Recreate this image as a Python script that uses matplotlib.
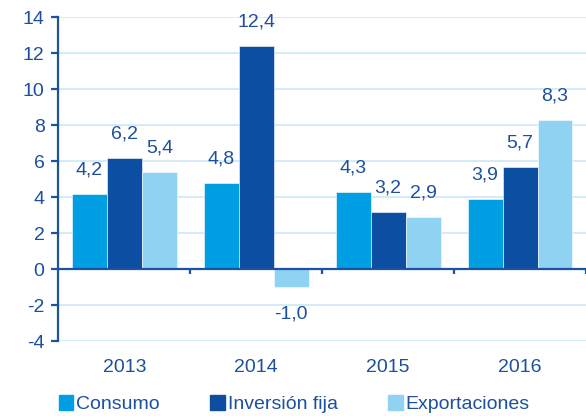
import numpy as np
import matplotlib
matplotlib.use("Agg")
import matplotlib.pyplot as plt
from matplotlib.patches import Patch

plt.rcParams['font.family'] = ['Liberation Sans', 'DejaVu Sans']
plt.rcParams['axes.unicode_minus'] = False

# data
years = ['2013', '2014', '2015', '2016']
series = ['Consumo', 'Inversión fija', 'Exportaciones']
consumo = [4.2, 4.8, 4.3, 3.9]
inversion = [6.2, 12.4, 3.2, 5.7]
exportaciones = [5.4, -1.0, 2.9, 8.3]

colors = ['#009ee2', '#0b4ea2', '#8fd2f2']
txt = '#1c4f9f'
grid_c = '#cde9f6'

fig = plt.figure(figsize=(5.86, 4.16), dpi=100)
ax = fig.add_axes([0.0998, 0.1796, 0.9002, 0.7788])

x = np.arange(len(years))
w = 0.265
for i, vals in enumerate([consumo, inversion, exportaciones]):
    pos = x + (i - 1) * w
    ax.bar(pos, vals, w, color=colors[i], edgecolor='white', linewidth=0.4, zorder=3)
    for px, v in zip(pos, vals):
        lab = ('%.1f' % v).replace('.', ',')
        off = 11 if v >= 0 else -13
        ax.annotate(lab, (px, v), xytext=(0, off), textcoords='offset points',
                    ha='center', va='bottom' if v >= 0 else 'top',
                    fontsize=14, color=txt)

ax.set_xlim(-0.5, 3.5)
ax.set_ylim(-4, 14)
ax.set_yticks(range(-4, 15, 2))
ax.yaxis.grid(True, color=grid_c, linewidth=1.2, zorder=0)
ax.set_axisbelow(True)

for s in ['top', 'right', 'bottom']:
    ax.spines[s].set_visible(False)
ax.spines['left'].set_color('#1a53a3')
ax.spines['left'].set_linewidth(1.6)
ax.spines['left'].set_zorder(5)

# x axis line at zero with boundary ticks
ax.axhline(0, color='#1a53a3', linewidth=1.6, zorder=4)
ax.vlines(np.arange(0.5, 4, 1), -0.28, 0, color='#1a53a3', linewidth=1.6,
          zorder=4, clip_on=False)

ax.set_xticks(x)
ax.set_xticklabels(years)
ax.tick_params(axis='x', length=0, pad=13, labelsize=14, labelcolor=txt)
ax.tick_params(axis='y', direction='out', length=5, width=1.6, color='#1a53a3',
               labelsize=14, labelcolor=txt, pad=5)

handles = [Patch(color=c) for c in colors]
fig.legend(handles, series, loc='center left', bbox_to_anchor=(0.1, 0.028),
           ncol=3, frameon=False, fontsize=14, labelcolor=txt,
           handlelength=0.75, handleheight=0.75, handletextpad=0.15,
           columnspacing=2.6, borderpad=0, borderaxespad=0)

fig.savefig('out.png', dpi=100)
